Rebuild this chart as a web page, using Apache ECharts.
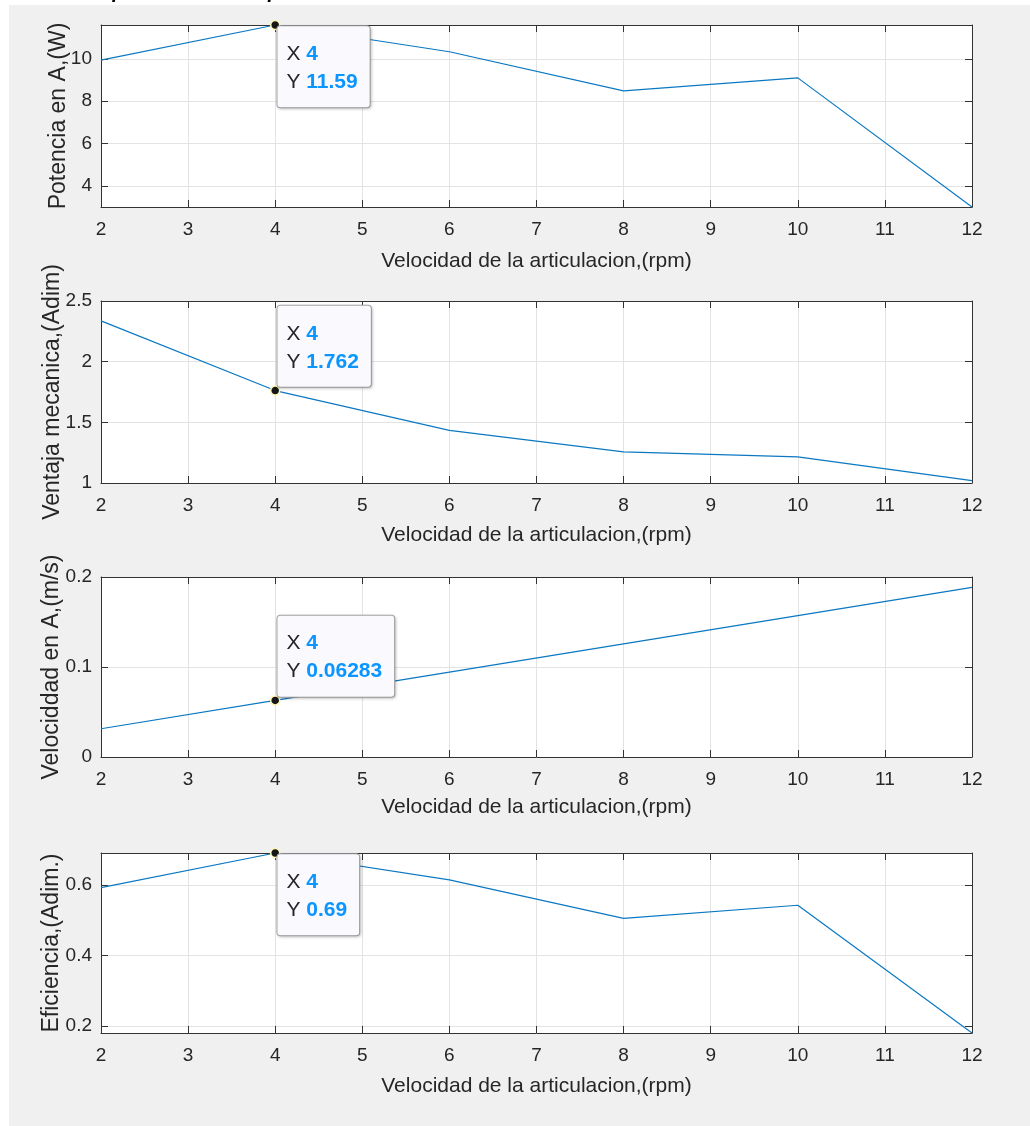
<!DOCTYPE html>
<html>
<head>
<meta charset="utf-8">
<script src="https://cdn.jsdelivr.net/npm/echarts@6/dist/echarts.min.js"></script>
<style>
  html, body { margin: 0; padding: 0; background: #fff; }
  #fig { position: absolute; left: 9px; top: 5px; width: 1021px; height: 1121px; background: #f0f0f0; }
  #chart { position: absolute; left: 0; top: 0; width: 1030px; height: 1126px; }
</style>
</head>
<body>
<div id="fig"></div>
<div id="chart"></div>
<script>
// datos (rpm en pasos de 2)
const rpm = [2, 4, 6, 8, 10, 12]
const potencia = [9.94, 11.59, 10.33, 8.49, 9.10, 3.02]
const ventaja = [2.336, 1.762, 1.434, 1.257, 1.216, 1.02]
const velocidadA = [0.03142, 0.06283, 0.09425, 0.1257, 0.1571, 0.1885]
const eficiencia = [0.592, 0.69, 0.614, 0.505, 0.542, 0.18]

const xLabel = 'Velocidad de la articulacion,(rpm)'
const yLabels = ['Potencia en A,(W)', 'Ventaja mecanica,(Adim)', 'Velociddad en A,(m/s)', 'Eficiencia,(Adim.)']
const tipIndex = 1 // datatip en x = 4

const FONT = '"Liberation Sans", Arial, Helvetica, sans-serif'
const AXIS = '#333333'
const TXT = '#262626'
const GRIDC = '#e3e3e3'
const LINE = '#0a78c2'

// limites de cada eje y (tight en 1 y 4, como en MATLAB)
const panels = [
  { data: potencia, min: Math.min(...potencia), max: Math.max(...potencia), split: 4, hideEnds: true, tipBelow: true },
  { data: ventaja, min: 1, max: 2.5, interval: 0.5, tipBelow: false },
  { data: velocidadA, min: 0, max: 0.2, interval: 0.1, tipBelow: false },
  { data: eficiencia, min: Math.min(...eficiencia), max: Math.max(...eficiencia), split: 3, hideEnds: true, tipBelow: true }
]
const tops = [25, 301, 577, 853]
const heights = [182, 182, 180, 180]
const xNameGaps = [44, 42, 40, 43]
const yNameGaps = [31, 37, 38, 38]

const grid = [], xAxis = [], yAxis = [], series = []

panels.forEach((p, i) => {
  grid.push({
    left: 101, right: 58, top: tops[i], height: heights[i],
    show: true, backgroundColor: '#fff', borderWidth: 0
  })
  const xBase = {
    gridIndex: i, type: 'value', min: 2, max: 12, interval: 1,
    axisLine: { show: true, onZero: false, lineStyle: { color: AXIS, width: 1 } },
    axisTick: { show: true, inside: true, length: 7, lineStyle: { color: AXIS } }
  }
  xAxis.push(Object.assign({}, xBase, {
    position: 'bottom',
    name: xLabel, nameLocation: 'middle', nameGap: xNameGaps[i], nameMoveOverlap: false,
    nameTextStyle: { fontFamily: FONT, fontSize: 21, color: TXT },
    axisLabel: { fontFamily: FONT, fontSize: 19, color: TXT, margin: 13 },
    splitLine: { show: true, lineStyle: { color: GRIDC, width: 1 } }
  }))
  xAxis.push(Object.assign({}, xBase, {
    position: 'top', axisLabel: { show: false }, splitLine: { show: false }
  }))

  const yBase = {
    gridIndex: i, type: 'value', min: p.min, max: p.max,
    axisLine: { show: true, onZero: false, lineStyle: { color: AXIS, width: 1 } },
    axisTick: { show: true, inside: true, length: 7, lineStyle: { color: AXIS } }
  }
  if (p.interval) yBase.interval = p.interval
  else yBase.splitNumber = p.split
  yAxis.push(Object.assign({}, yBase, {
    position: 'left',
    name: yLabels[i], nameLocation: 'middle', nameGap: yNameGaps[i], nameMoveOverlap: false,
    nameTextStyle: { fontFamily: FONT, fontSize: 23, color: TXT },
    axisLabel: {
      fontFamily: FONT, fontSize: 19, color: TXT, margin: 9,
      showMinLabel: !p.hideEnds, showMaxLabel: !p.hideEnds
    },
    splitLine: { show: true, lineStyle: { color: GRIDC, width: 1 } }
  }))
  yAxis.push(Object.assign({}, yBase, {
    position: 'right', axisLabel: { show: false }, splitLine: { show: false }
  }))

  const tipVal = Number(p.data[tipIndex].toPrecision(4)).toString()
  series.push({
    type: 'line',
    xAxisIndex: 2 * i, yAxisIndex: 2 * i,
    data: rpm.map((x, k) => [x, p.data[k]]),
    showSymbol: false,
    lineStyle: { color: LINE, width: 1.2 },
    itemStyle: { color: LINE },
    clip: false,
    markPoint: {
      symbol: 'circle', symbolSize: 9,
      itemStyle: { color: '#161616', borderColor: '#fff6b8', borderWidth: 1.5 },
      label: {
        show: true,
        position: p.tipBelow ? [7.5, 6.5] : [7.5, 1.5],
        verticalAlign: p.tipBelow ? 'top' : 'bottom',
        formatter: '{k|X }{v|' + rpm[tipIndex] + '}\n{k|Y }{v|' + tipVal + '}',
        backgroundColor: '#f9f9fe',
        borderColor: '#a8a8a8', borderWidth: 1, borderRadius: 3,
        padding: [14, 12, 11, 9],
        shadowColor: 'rgba(0,0,0,0.18)', shadowBlur: 3, shadowOffsetX: 1, shadowOffsetY: 1,
        rich: {
          k: { fontFamily: FONT, fontSize: 21, color: TXT, lineHeight: 28 },
          v: { fontFamily: FONT, fontSize: 21, fontWeight: 'bold', color: '#0a95ff', lineHeight: 28 }
        }
      },
      data: [{ coord: [rpm[tipIndex], p.data[tipIndex]] }]
    }
  })
})

const chart = echarts.init(document.getElementById('chart'))
chart.setOption({
  animation: false,
  title: {
    text: 'Gráfica de parámetros comparativos de actuador en el mecanismo',
    left: 4, top: -23,
    textStyle: { fontFamily: FONT, fontSize: 20, fontStyle: 'italic', fontWeight: 'bold', color: '#000' }
  },
  grid: grid,
  xAxis: xAxis,
  yAxis: yAxis,
  series: series
})
</script>
</body>
</html>
